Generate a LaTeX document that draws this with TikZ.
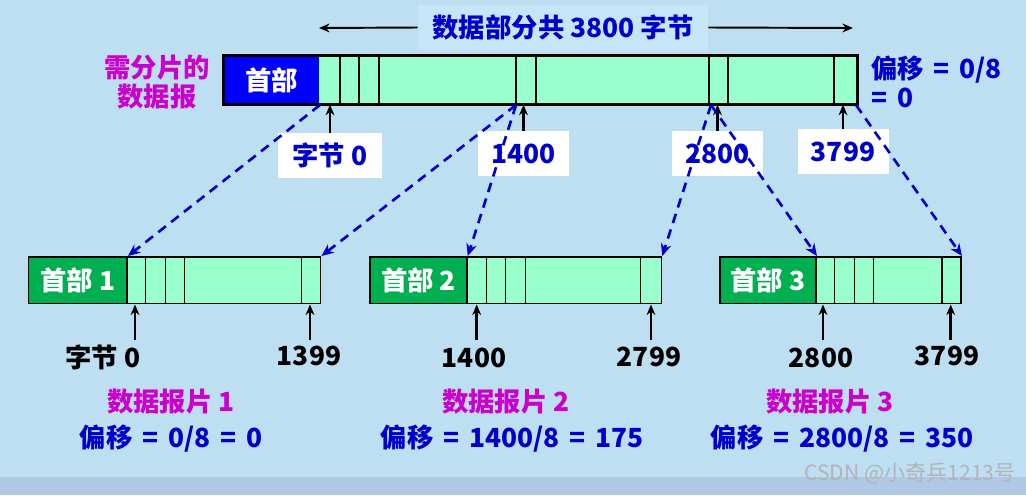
\documentclass[tikz,border=0pt]{standalone}
\usepackage{fontspec}
\setmainfont{Noto Sans CJK SC}
\usetikzlibrary{arrows.meta}
\definecolor{bgblue}{RGB}{190,222,242}
\definecolor{stripblue}{RGB}{176,200,228}
\definecolor{titlebg}{RGB}{199,229,247}
\definecolor{txtblue}{RGB}{0,0,204}
\definecolor{txtmag}{RGB}{204,0,204}
\definecolor{hdrblue}{RGB}{0,0,255}
\definecolor{hdrgreen}{RGB}{0,176,80}
\definecolor{datagreen}{RGB}{153,255,204}
\definecolor{markgray}{RGB}{178,180,186}
\newcommand\widesp{\spaceskip=5.6pt\relax}
\tikzset{
  txt/.style={font=\fontsize{15}{16.5}\selectfont\bfseries, inner sep=0},
  offtxt/.style={txt, text=txtblue},
  hdrbox/.style={txt, text=white, minimum height=0.94cm, anchor=north west},
  fragbox/.style={draw, line width=0.85pt, fill=datagreen, minimum height=0.94cm, anchor=north west},
  cellline/.style={line width=0.6pt},
  valbox/.style={txt, text=txtblue, fill=white, minimum height=0.89cm},
  uparrow/.style={line width=1.5pt, -{Stealth[length=6pt, width=5pt]}},
  cutarrow/.style={txtblue, line width=1.5pt, dash pattern=on 5.5pt off 3.8pt, -{Stealth[length=7pt, width=6pt]}}
}
\begin{document}
\begin{tikzpicture}[x=0.02cm, y=-0.02cm]
\fill[bgblue] (0,0) rectangle (1026,495);
\fill[stripblue] (0,477) rectangle (1026,495);
\useasboundingbox (0,0) rectangle (1026,495);

\node[txt, text=txtblue, fill=titlebg, minimum width=5.8cm, minimum height=0.9cm] (title) at (563,27.5) {数据部分共 3800 字节};
\coordinate (tl) at (319,28);
\coordinate (tr) at (853,28);
\draw[line width=1.1pt, -{Stealth[length=6pt, width=5pt]}] (title.west) -- (tl);
\draw[line width=1.1pt, -{Stealth[length=6pt, width=5pt]}] (title.east) -- (tr);

\node[fill=datagreen, minimum width=12.66cm, minimum height=0.97cm, anchor=north west, inner sep=0] (dg) at (223.5,55.5) {};
\node[hdrbox, fill=hdrblue, minimum width=1.9cm, anchor=north west] (h0) at (224,56.5) {首部};
\draw[cellline] (340,55) -- (340,103);
\draw[cellline] (359,55) -- (359,103);
\draw[cellline] (379,55) -- (379,103);
\draw[cellline] (516,55) -- (516,103);
\draw[cellline] (536,55) -- (536,103);
\draw[cellline] (709,55) -- (709,103);
\draw[cellline] (728,55) -- (728,103);
\draw[cellline] (834,55) -- (834,103);
\draw[line width=1.7pt] (dg.north west) rectangle (dg.south east);

\node[txt, text=txtmag, align=center] (need) at (157,82) {需分片的\\数据报};
\node[offtxt, align=left, anchor=west] (off0) at (871,82) {\widesp 偏移 = 0/8\\\widesp = 0};

\node[valbox, minimum width=2.08cm] (b0) at (330,155.5) {字节 0};
\node[valbox, minimum width=1.82cm] (b1) at (523.5,153.5) {1400};
\node[valbox, minimum width=1.82cm] (b2) at (717.5,153.5) {2800};
\node[valbox, minimum width=1.82cm] (b3) at (843,151.5) {3799};
\draw[uparrow] (b0.north) -- (b0.north |- dg.south);
\draw[uparrow] (b1.north) -- (b1.north |- dg.south);
\draw[uparrow] (b2.north) -- (b2.north |- dg.south);
\draw[uparrow] (b3.north) -- (b3.north |- dg.south);

\node[fragbox, minimum width=5.84cm] (f1) at (28,256) {};
\node[fragbox, minimum width=5.83cm] (f2) at (369.3,256) {};
\node[fragbox, minimum width=4.83cm] (f3) at (719,256) {};
\node[hdrbox, fill=hdrgreen, draw, line width=0.85pt, minimum width=1.97cm] (h1) at (28,256) {首部 1};
\node[hdrbox, fill=hdrgreen, draw, line width=0.85pt, minimum width=1.94cm] (h2) at (369.3,256) {首部 2};
\node[hdrbox, fill=hdrgreen, draw, line width=0.85pt, minimum width=1.93cm] (h3) at (719,256) {首部 3};
\draw[cellline] (145.7,256) -- (145.7,303);
\draw[cellline] (165.7,256) -- (165.7,303);
\draw[cellline] (184.7,256) -- (184.7,303);
\draw[cellline] (301.7,256) -- (301.7,303);
\draw[cellline] (486.7,256) -- (486.7,303);
\draw[cellline] (505.7,256) -- (505.7,303);
\draw[cellline] (525.7,256) -- (525.7,303);
\draw[cellline] (640.7,256) -- (640.7,303);
\draw[cellline] (834.3,256) -- (834.3,303);
\draw[cellline] (854.3,256) -- (854.3,303);
\draw[cellline] (873.3,256) -- (873.3,303);
\draw[cellline] (942,256) -- (942,303);

\coordinate (s0) at (320,105);
\coordinate (s1) at (516,105);
\coordinate (s2) at (711,105);
\coordinate (s3) at (856,105);
\draw[cutarrow] (s0) -- (h1.north east);
\draw[cutarrow] (s1) -- (f1.north east);
\draw[cutarrow] (s1) -- (h2.north east);
\draw[cutarrow] (s2) -- (f2.north east);
\draw[cutarrow] (s2) -- (h3.north east);
\draw[cutarrow] (s3) -- (f3.north east);

\coordinate (a1) at (135,340);
\coordinate (a2) at (310,340);
\coordinate (a3) at (476.7,340);
\coordinate (a4) at (651,340);
\coordinate (a5) at (823,340);
\coordinate (a6) at (950.7,340);
\draw[uparrow] (a1) -- (a1 |- f1.south);
\draw[uparrow] (a2) -- (a2 |- f1.south);
\draw[uparrow] (a3) -- (a3 |- f2.south);
\draw[uparrow] (a4) -- (a4 |- f2.south);
\draw[uparrow] (a5) -- (a5 |- f3.south);
\draw[uparrow] (a6) -- (a6 |- f3.south);
\node[txt] (l1) at (103,357) {字节 0};
\node[txt] (l2) at (309,356) {1399};
\node[txt] (l3) at (474,358) {1400};
\node[txt] (l4) at (649,357) {2799};
\node[txt] (l5) at (821,358) {2800};
\node[txt] (l6) at (947,356) {3799};

\node[txt, text=txtmag] (n1) at (171,402) {数据报片 1};
\node[offtxt] (o1) at (171,439) {\widesp 偏移 = 0/8 = 0};
\node[txt, text=txtmag] (n2) at (506,402) {数据报片 2};
\node[offtxt] (o2) at (512,439) {\widesp 偏移 = 1400/8 = 175};
\node[txt, text=txtmag] (n3) at (830,402) {数据报片 3};
\node[offtxt] (o3) at (842,439) {\widesp 偏移 = 2800/8 = 350};

\node[font=\fontsize{12}{12}\selectfont, text=markgray, inner sep=0] (mark) at (910,473) {CSDN @小奇兵1213号};
\end{tikzpicture}
\end{document}
